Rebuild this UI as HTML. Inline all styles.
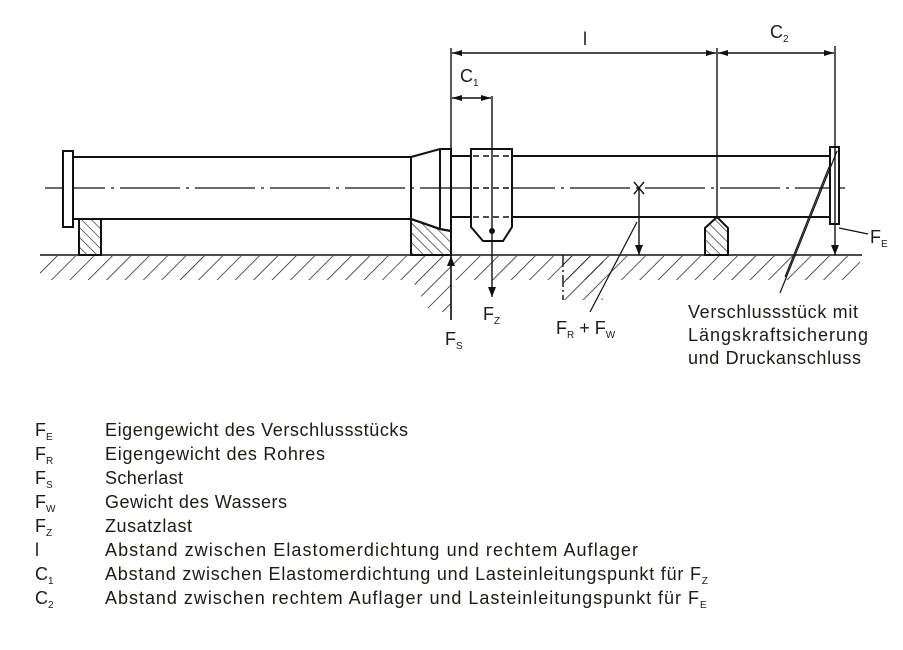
<!DOCTYPE html>
<html><head><meta charset="utf-8"><style>
body{margin:0;background:#fff;width:903px;height:645px;overflow:hidden}
text{font-family:"Liberation Sans",sans-serif;fill:#1e1a16}
</style></head><body>
<svg width="903" height="645" viewBox="0 0 903 645" xmlns="http://www.w3.org/2000/svg">
<defs>
<pattern id="g" width="13" height="13" patternUnits="userSpaceOnUse" patternTransform="rotate(45)">
<line x1="0" y1="0" x2="0" y2="13" stroke="#111" stroke-width="1.4"/></pattern>
<pattern id="s" width="7" height="7" patternUnits="userSpaceOnUse" patternTransform="rotate(-45)">
<line x1="0" y1="0" x2="0" y2="7" stroke="#111" stroke-width="1.2"/></pattern>
<marker id="a" markerWidth="10" markerHeight="6" refX="10" refY="3" orient="auto" markerUnits="userSpaceOnUse"><path d="M0,0L10,3L0,6z" fill="#111"/></marker>
<marker id="b" markerWidth="10" markerHeight="8" refX="10" refY="4" orient="auto" markerUnits="userSpaceOnUse"><path d="M0,0L10,4L0,8z" fill="#111"/></marker>
</defs>
<g stroke="#111" stroke-width="2" fill="none">
<rect x="40" y="256" width="820" height="24" fill="url(#g)" stroke="none"/>
<polygon points="412,280 451,280 451,312 430,312" fill="url(#g)" stroke="none"/>
<rect x="563" y="256" width="40" height="44" fill="url(#g)" stroke="none"/>
<line x1="40" y1="255" x2="862" y2="255" stroke-width="1.6"/>
<line x1="563" y1="255" x2="563" y2="300" stroke-width="1.4" stroke-dasharray="12,3,2,3"/>
<line x1="45" y1="188" x2="845" y2="188" stroke-width="1.2" stroke-dasharray="60,6,3,6"/>
<rect x="63" y="151" width="10" height="76" fill="#fff"/>
<line x1="73" y1="157" x2="412" y2="157"/>
<line x1="73" y1="219" x2="412" y2="219"/>
<rect x="79" y="219" width="22" height="36" fill="url(#s)"/>
<polygon points="411,219 440,229 451,231 451,255 411,255" fill="url(#s)"/>
<path d="M411,157 L440,149 L451,149 L451,231 L440,229 L411,219 Z" fill="none"/>
<line x1="411" y1="157" x2="411" y2="255"/>
<line x1="440" y1="149" x2="440" y2="229"/>
<line x1="451" y1="156" x2="830" y2="156"/>
<line x1="451" y1="217" x2="830" y2="217"/>
<path d="M471,149 L512,149 L512,227 L503,241 L483,241 L471,227 Z" fill="#fff"/>
<g stroke-width="1.5" stroke-dasharray="6,4"><line x1="473" y1="156" x2="510" y2="156"/><line x1="473" y1="188" x2="510" y2="188"/><line x1="473" y1="217" x2="510" y2="217"/></g>
<circle cx="492" cy="231" r="2" fill="#111"/>
<rect x="830" y="147" width="9" height="77" fill="#fff"/>
<path d="M705,255 L705,228 L717,217 L728,228 L728,255 Z" fill="url(#s)"/>
<g stroke-width="1.4">
<line x1="451" y1="48" x2="451" y2="320"/>
<line x1="717" y1="48" x2="717" y2="217"/>
<line x1="835" y1="46" x2="835" y2="255" marker-end="url(#b)"/>
<line x1="492" y1="96" x2="492" y2="297" marker-end="url(#b)"/>
<line x1="584" y1="53" x2="452" y2="53" marker-end="url(#a)"/>
<line x1="584" y1="53" x2="716" y2="53" marker-end="url(#a)"/>
<line x1="776" y1="53" x2="718" y2="53" marker-end="url(#a)"/>
<line x1="776" y1="53" x2="834" y2="53" marker-end="url(#a)"/>
<line x1="471" y1="98" x2="452" y2="98" marker-end="url(#a)"/>
<line x1="471" y1="98" x2="491" y2="98" marker-end="url(#a)"/>
<line x1="451" y1="320" x2="451" y2="256" marker-end="url(#b)"/>
<line x1="639" y1="188" x2="639" y2="255" marker-end="url(#b)"/>
<path d="M634,182 L644,194 M644,182 L634,194"/>
<line x1="839" y1="228" x2="868" y2="234"/>
<line x1="637" y1="222" x2="590" y2="312" stroke-width="1.2"/>
<line x1="837" y1="151" x2="780" y2="293" stroke-width="1.2"/>
<line x1="829" y1="167" x2="785" y2="277" stroke-width="1.2"/>
</g>
</g>
<g font-size="18">
<text x="583" y="45">l</text>
<text x="770" y="38">C<tspan font-size="10" dy="4">2</tspan></text>
<text x="460" y="82">C<tspan font-size="10" dy="4">1</tspan></text>
<text x="483" y="320">F<tspan font-size="10" dy="4">Z</tspan></text>
<text x="445" y="345">F<tspan font-size="10" dy="4">S</tspan></text>
<text x="556" y="334">F<tspan font-size="10" dy="4">R</tspan><tspan dy="-4"> + F</tspan><tspan font-size="10" dy="4">W</tspan></text>
<text x="870" y="243">F<tspan font-size="10" dy="4">E</tspan></text>
<text x="688" y="318" textLength="170">Verschlussstück mit</text>
<text x="688" y="341" textLength="180">Längskraftsicherung</text>
<text x="688" y="364" textLength="173">und Druckanschluss</text>
</g>
<g font-size="18">
<text x="35" y="436">F<tspan font-size="10" dy="4">E</tspan></text>
<text x="35" y="460">F<tspan font-size="10" dy="4">R</tspan></text>
<text x="35" y="484">F<tspan font-size="10" dy="4">S</tspan></text>
<text x="35" y="508">F<tspan font-size="10" dy="4">W</tspan></text>
<text x="35" y="532">F<tspan font-size="10" dy="4">Z</tspan></text>
<text x="35" y="556">l</text>
<text x="35" y="580">C<tspan font-size="10" dy="4">1</tspan></text>
<text x="35" y="604">C<tspan font-size="10" dy="4">2</tspan></text>
<text x="105" y="436" textLength="303">Eigengewicht des Verschlussstücks</text>
<text x="105" y="460" textLength="220">Eigengewicht des Rohres</text>
<text x="105" y="484" textLength="78">Scherlast</text>
<text x="105" y="508" textLength="182">Gewicht des Wassers</text>
<text x="105" y="532" textLength="87">Zusatzlast</text>
<text x="105" y="556" textLength="533">Abstand zwischen Elastomerdichtung und rechtem Auflager</text>
<text x="105" y="580"><tspan textLength="596">Abstand zwischen Elastomerdichtung und Lasteinleitungspunkt für F</tspan><tspan font-size="10" dy="4">Z</tspan></text>
<text x="105" y="604"><tspan textLength="594">Abstand zwischen rechtem Auflager und Lasteinleitungspunkt für F</tspan><tspan font-size="10" dy="4">E</tspan></text>
</g>
</svg>
</body></html>
